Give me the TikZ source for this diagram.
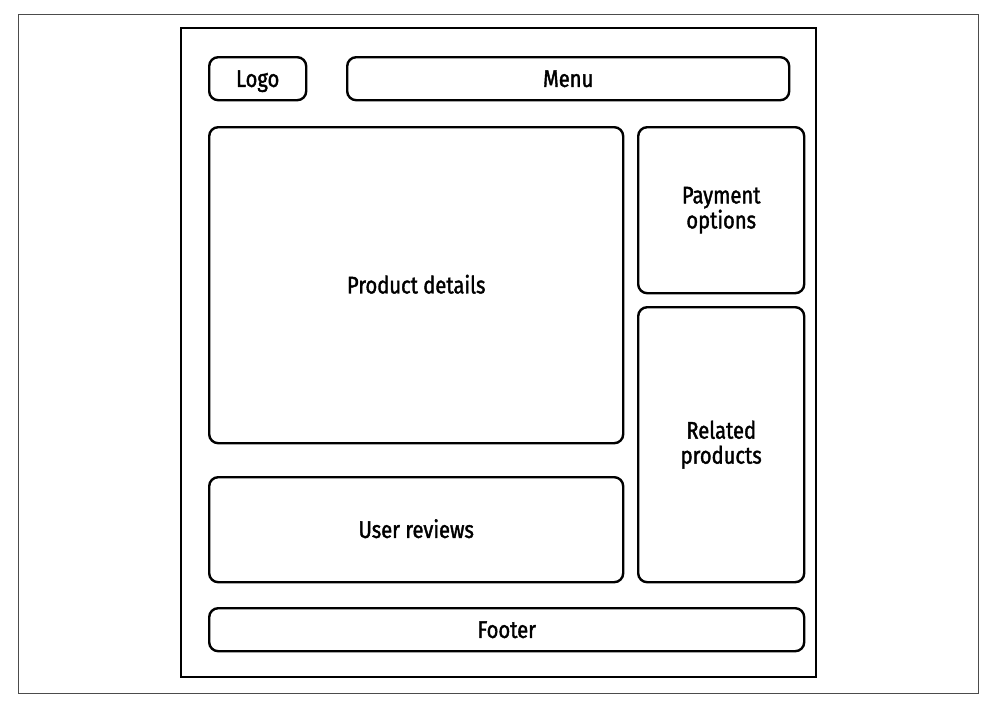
\documentclass[tikz,border=0pt]{standalone}
\usepackage{fontspec}
\setmainfont{Fira Sans}[FakeStretch=0.84,FakeBold=1.6]
\usepackage{tikz}
\usetikzlibrary{positioning}

\begin{document}
\begin{tikzpicture}[x=1pt,y=-1pt,
  block/.style={draw,rounded corners=9pt,line width=2.4pt,anchor=north west,inner sep=0pt,
    align=center,font=\fontsize{24}{25}\selectfont},
  oneline/.style={block,text height=19.5pt,text depth=3pt}]

\useasboundingbox (0,0) rectangle (990,705);

\draw[line width=1pt,black!70] (18,14) rectangle (978,693);
\draw[line width=2.8pt] (181,28) rectangle (816,677);

\node[oneline,minimum width=97pt,minimum height=43pt] (logo) at (208,56) {Logo};
\node[oneline,minimum width=442pt,minimum height=43pt] (menu) at (346,56) {Menu};

\node[oneline,minimum width=414pt,minimum height=316pt] (details) at (208,126) {Product details};
\node[oneline,minimum width=414pt,minimum height=105pt] (reviews) at (208,476) {User reviews};

\node[block,minimum width=166pt,minimum height=166pt] (payment) at (637,126) {Payment\\options};
\node[block,minimum width=166pt,minimum height=275pt] (related) at (637,306) {Related\\products};

\node[oneline,minimum width=595pt,minimum height=43pt] (footer) at (208,607) {Footer};
\end{tikzpicture}
\end{document}
